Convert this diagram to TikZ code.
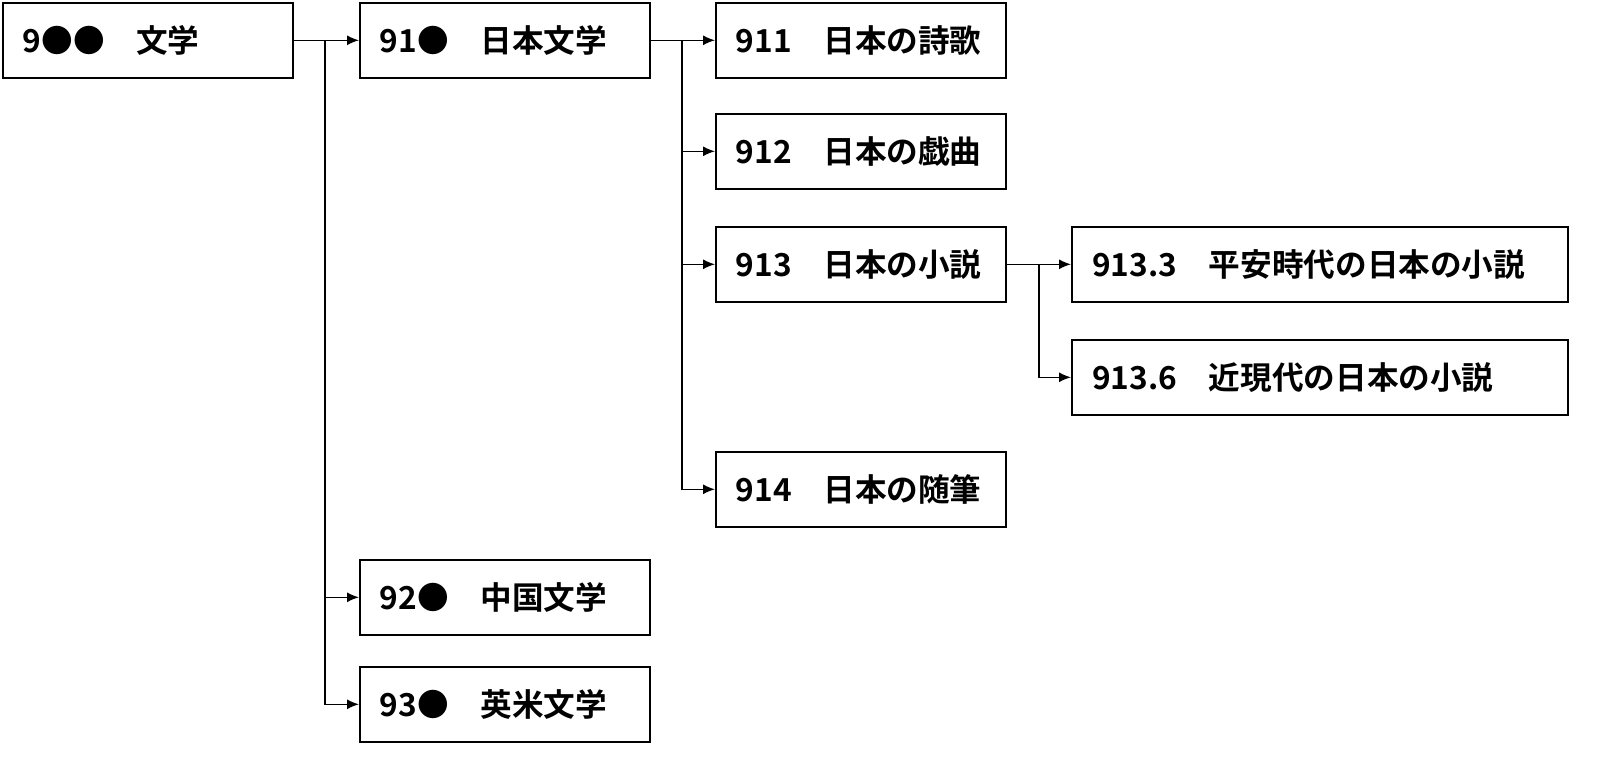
\documentclass[tikz,border=0pt]{standalone}
\usepackage{fontspec}
\setmainfont{Noto Sans CJK JP}[BoldFont={* Bold}]
\usetikzlibrary{arrows.meta,positioning}
\tikzset{
  cls/.style={draw, line width=0.9pt, anchor=north west, minimum width=5.8cm,
    minimum height=1.5cm, text width=5.0cm, align=left, inner sep=0.4cm,
    font=\fontsize{18}{20}\selectfont\bfseries},
  wide/.style={cls, minimum width=9.92cm, text width=9.1cm},
  arr/.style={draw, line width=0.8pt, -{Latex[length=2.4mm,width=2mm]}},
  ln/.style={draw, line width=0.8pt}
}
\begin{document}
\begin{tikzpicture}
  \useasboundingbox (0,0) rectangle (32.04,-15.2);
  \node [cls] (a) at (0.04,-0.04) {9●●　文学};
  \node [cls] (b) at (7.18,-0.04) {91●　日本文学};
  \node [cls] (b2) at (7.18,-11.18) {92●　中国文学};
  \node [cls] (b3) at (7.18,-13.32) {93●　英米文学};
  \node [cls] (c1) at (14.3,-0.04) {911　日本の詩歌};
  \node [cls] (c2) at (14.3,-2.26) {912　日本の戯曲};
  \node [cls] (c3) at (14.3,-4.52) {913　日本の小説};
  \node [cls] (c4) at (14.3,-9.02) {914　日本の随筆};
  \node [wide] (d1) at (21.42,-4.52) {913.3　平安時代の日本の小説};
  \node [wide] (d2) at (21.42,-6.78) {913.6　近現代の日本の小説};
  % branch points
  \coordinate (ja) at (6.5,0 |- a.east);
  \coordinate (jb) at (13.64,0 |- b.east);
  \coordinate (jc) at (20.78,0 |- c3.east);
  \draw [ln] (a.east) -- (ja);
  \foreach \t in {b,b2,b3} \draw [arr] (ja) |- (\t.west);
  \draw [ln] (b.east) -- (jb);
  \foreach \t in {c1,c2,c3,c4} \draw [arr] (jb) |- (\t.west);
  \draw [ln] (c3.east) -- (jc);
  \foreach \t in {d1,d2} \draw [arr] (jc) |- (\t.west);
\end{tikzpicture}
\end{document}
